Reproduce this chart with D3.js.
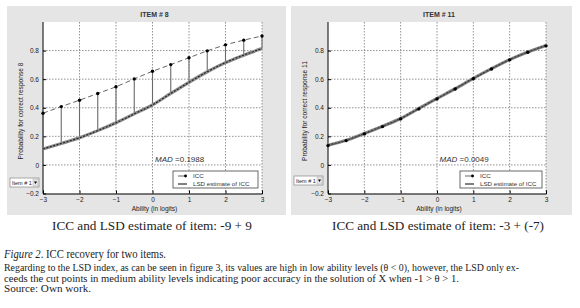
<!DOCTYPE html>
<html lang="en">
<head>
<meta charset="utf-8">
<script src="https://d3js.org/d3.v7.min.js"></script>
<style>
  body { margin: 0; background: #fff; }
  svg text { font-family: "Liberation Sans", Arial, sans-serif; }
  .serif { font-family: "Liberation Serif", "Times New Roman", serif !important; fill: #222; }
</style>
</head>
<body>
<div id="chart"></div>
<script>
// ability grid (logits)
const theta = [-3, -2.5, -2, -1.5, -1, -0.5, 0, 0.5, 1, 1.5, 2, 2.5, 3];

// item 8
const icc8 = [0.112, 0.150, 0.190, 0.240, 0.295, 0.357, 0.420, 0.500, 0.578, 0.652, 0.716, 0.768, 0.814];
const lsd8 = [0.362, 0.408, 0.453, 0.500, 0.547, 0.602, 0.655, 0.702, 0.750, 0.798, 0.840, 0.873, 0.902];

// item 11
const icc11 = [0.138, 0.172, 0.220, 0.270, 0.325, 0.395, 0.465, 0.533, 0.606, 0.674, 0.737, 0.790, 0.836];
const lsd11 = [0.135, 0.170, 0.217, 0.268, 0.322, 0.392, 0.462, 0.531, 0.603, 0.671, 0.735, 0.788, 0.833];

const xTicks = [-3, -2, -1, 0, 1, 2, 3];
const yTicks = [-0.2, 0, 0.2, 0.4, 0.6, 0.8];

const W = 580, H = 308;
const svg = d3.select("#chart").append("svg")
  .attr("width", W).attr("height", H);

function drawPanel(p) {
  const g = svg.append("g");
  // gray figure background
  g.append("rect")
    .attr("x", p.bx).attr("y", 6).attr("width", p.bw).attr("height", 209)
    .attr("fill", "#e5e5e5");

  const x = d3.scaleLinear().domain([-3, 3]).range([p.x0, p.x1]);
  const y = d3.scaleLinear().domain([-0.2, 1]).range([193.5, 22]);

  g.append("rect")
    .attr("x", p.x0).attr("y", y(1)).attr("width", p.x1 - p.x0).attr("height", y(-0.2) - y(1))
    .attr("fill", "#fff");

  // grid
  g.selectAll(".vg").data(xTicks.slice(1)).enter().append("line")
    .attr("x1", d => x(d)).attr("x2", d => x(d))
    .attr("y1", y(1)).attr("y2", y(-0.2))
    .attr("stroke", "#777").attr("stroke-width", 0.8).attr("stroke-dasharray", "1.5,1.5");
  g.selectAll(".hg").data(yTicks.slice(1)).enter().append("line")
    .attr("x1", p.x0).attr("x2", p.x1)
    .attr("y1", d => y(d)).attr("y2", d => y(d))
    .attr("stroke", "#777").attr("stroke-width", 0.8).attr("stroke-dasharray", "1.5,1.5");

  // axes
  const ax = g.append("g").attr("transform", "translate(0," + y(-0.2) + ")")
    .call(d3.axisBottom(x).tickValues(xTicks).tickSize(-3).tickPadding(4).tickFormat(d3.format("d")));
  const ay = g.append("g").attr("transform", "translate(" + p.x0 + ",0)")
    .call(d3.axisLeft(y).tickValues(yTicks).tickSize(-3).tickPadding(4).tickFormat(d => d === 0 ? "0" : d3.format(".1f")(d)));
  [ax, ay].forEach(a => {
    a.select(".domain").attr("stroke", "#000").attr("stroke-width", 1);
    a.selectAll("line").attr("stroke", "#000");
    a.selectAll("text").attr("font-size", 6.5).attr("fill", "#222")
      .attr("font-family", "Liberation Sans, Arial, sans-serif");
  });
  ay.select(".domain").attr("d", "M0," + y(1) + "V" + y(-0.2));

  const line = d3.line().x(d => x(d[0])).y(d => y(d[1])).curve(d3.curveMonotoneX);
  const iccPts = theta.map((t, i) => [t, p.icc[i]]);
  const lsdPts = theta.map((t, i) => [t, p.lsd[i]]);

  // stems between estimate and ICC
  if (p.stems) {
    g.selectAll(".stem").data(theta).enter().append("line")
      .attr("x1", (d) => x(d)).attr("x2", (d) => x(d))
      .attr("y1", (d, i) => y(p.lsd[i])).attr("y2", (d, i) => y(p.icc[i]))
      .attr("stroke", "#6a6a6a").attr("stroke-width", 1.1);
  }

  // ICC thick curve
  g.append("path").datum(iccPts).attr("d", line)
    .attr("fill", "none").attr("stroke", "#8c8c8c").attr("stroke-width", 3.2);
  g.append("path").datum(iccPts).attr("d", line)
    .attr("fill", "none").attr("stroke", "#222").attr("stroke-width", 1.1)
    .attr("stroke-dasharray", "2,1.5");

  // LSD estimate dashed line with markers
  g.append("path").datum(lsdPts).attr("d", line)
    .attr("fill", "none").attr("stroke", "#555").attr("stroke-width", 0.9)
    .attr("stroke-dasharray", p.stems ? "5,3" : "none");
  g.selectAll(".dot").data(lsdPts).enter().append("circle")
    .attr("cx", d => x(d[0])).attr("cy", d => y(d[1])).attr("r", 1.7)
    .attr("fill", "#000");

  // title
  g.append("text").attr("x", (p.x0 + p.x1) / 2 + 2).attr("y", 16.5)
    .attr("text-anchor", "middle").attr("font-size", 7).attr("font-weight", "bold")
    .attr("fill", "#333").text(p.title);

  // axis labels
  g.append("text").attr("x", (p.x0 + p.x1) / 2 + 2).attr("y", 211)
    .attr("text-anchor", "middle").attr("font-size", 6.5).attr("fill", "#222")
    .text("Ability (in logits)");
  g.append("text")
    .attr("transform", "translate(" + (p.bx + 16) + "," + 111 + ") rotate(-90)")
    .attr("text-anchor", "middle").attr("font-size", 6.6).attr("fill", "#222")
    .text(p.ylabel);

  // MAD text
  const mad = g.append("text").attr("x", x(0.07)).attr("y", 161.5)
    .attr("font-size", 8).attr("fill", "#333");
  mad.append("tspan").attr("font-style", "italic").text("MAD");
  mad.append("tspan").text(" =" + p.mad);

  // legend
  const lg = g.append("g").attr("transform", "translate(" + p.lx + ",171)");
  lg.append("rect").attr("width", p.lw).attr("height", 17)
    .attr("fill", "#fff").attr("stroke", "#444").attr("stroke-width", 0.8);
  lg.append("line").attr("x1", 5).attr("x2", 14).attr("y1", 5).attr("y2", 5)
    .attr("stroke", "#555").attr("stroke-width", 0.9);
  lg.append("circle").attr("cx", 12.5).attr("cy", 5).attr("r", 1.4).attr("fill", "#000");
  lg.append("line").attr("x1", 5).attr("x2", 14).attr("y1", 13).attr("y2", 13)
    .attr("stroke", "#000").attr("stroke-width", 1);
  lg.append("text").attr("x", 20).attr("y", 7.3).attr("font-size", 6.2).attr("fill", "#333").text("ICC");
  lg.append("text").attr("x", 20).attr("y", 15.3).attr("font-size", 6.2).attr("fill", "#333").text("LSD estimate of ICC");

  // popup menu
  const dd = g.append("g").attr("transform", "translate(" + (p.bx + 3) + "," + p.ddy + ")");
  dd.append("rect").attr("width", 29).attr("height", 9)
    .attr("fill", "#fff").attr("stroke", "#888").attr("stroke-width", 0.7);
  dd.append("text").attr("x", 2).attr("y", 6.8).attr("font-size", 5.5).attr("fill", "#222").text("Item # 1");
  dd.append("rect").attr("x", 23).attr("y", 1).attr("width", 5).attr("height", 7)
    .attr("fill", "#e8e8e8").attr("stroke", "#999").attr("stroke-width", 0.4);
  dd.append("path").attr("d", "M24,3.5 L27,3.5 L25.5,6 Z").attr("fill", "#000");

  // caption under panel
  svg.append("text").attr("class", "serif")
    .attr("x", p.cx).attr("y", 229.5).attr("text-anchor", "middle")
    .attr("font-size", 13.5).attr("textLength", p.cw).attr("lengthAdjust", "spacingAndGlyphs")
    .text(p.caption);
}

drawPanel({
  bx: 7, bw: 279, x0: 43, x1: 262,
  icc: icc8, lsd: lsd8, stems: true,
  title: "ITEM # 8", ylabel: "Probability for correct response 8",
  mad: "0.1988", lx: 173, lw: 85, ddy: 178,
  caption: "ICC and LSD estimate of item: -9 + 9", cx: 152, cw: 200
});
drawPanel({
  bx: 291, bw: 281, x0: 328, x1: 546,
  icc: icc11, lsd: lsd11, stems: false,
  title: "ITEM # 11", ylabel: "Probability for correct response 11",
  mad: "0.0049", lx: 460, lw: 82, ddy: 176,
  caption: "ICC and LSD estimate of item: -3 + (-7)", cx: 438, cw: 212
});

// figure caption and note
const fig = svg.append("text").attr("class", "serif").attr("x", 4).attr("y", 258)
  .attr("font-size", 11.5).attr("textLength", 162).attr("lengthAdjust", "spacingAndGlyphs");
fig.append("tspan").attr("font-style", "italic").text("Figure 2");
fig.append("tspan").text(". ICC recovery for two items.");

const notes = [
  ["Regarding to the LSD index, as can be seen in figure 3, its values are high in low ability levels (\u03b8 < 0), however, the LSD only ex-", 515],
  ["ceeds the cut points in medium ability levels indicating poor accuracy in the solution of X when -1 > \u03b8 > 1.", 455],
  ["Source: Own work.", 87]
];
svg.selectAll(".note").data(notes).enter().append("text")
  .attr("class", "serif")
  .attr("x", 4).attr("y", (d, i) => 271 + i * 10.5)
  .attr("font-size", 10.2).attr("textLength", d => d[1]).attr("lengthAdjust", "spacingAndGlyphs")
  .text(d => d[0]);
</script>
</body>
</html>
